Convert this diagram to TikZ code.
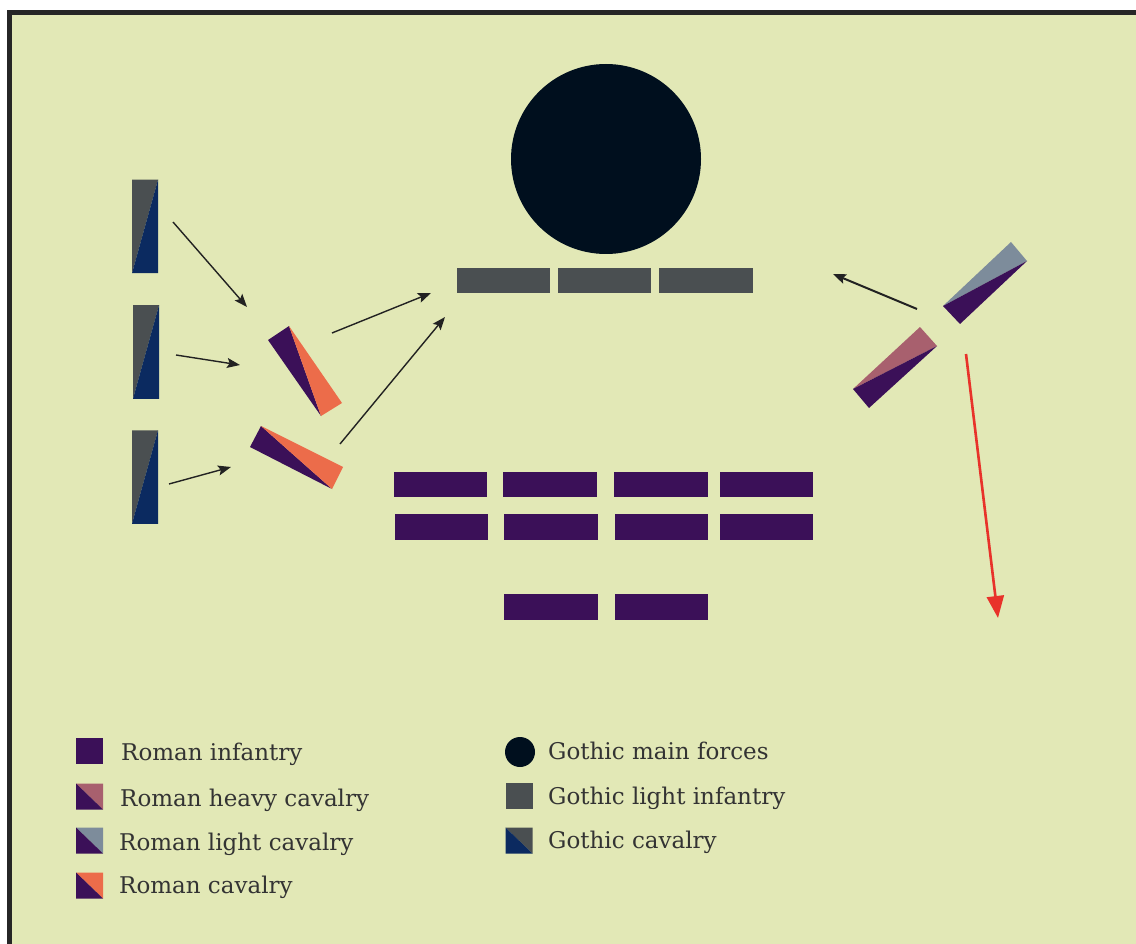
\documentclass[tikz,border=0pt]{standalone}
\usepackage{fontspec}
\setmainfont{DejaVu Serif}
\usetikzlibrary{arrows.meta}
\definecolor{bgc}{HTML}{E2E8B6}
\definecolor{framec}{HTML}{262626}
\definecolor{rompurple}{HTML}{3B1058}
\definecolor{romorange}{HTML}{EC6C4A}
\definecolor{rompink}{HTML}{A8606E}
\definecolor{romlight}{HTML}{7D8C9B}
\definecolor{gothgray}{HTML}{4A4F51}
\definecolor{gothnavy}{HTML}{0B2A60}
\definecolor{gothmain}{HTML}{000F1E}
\definecolor{textc}{HTML}{333333}
\definecolor{arrowc}{HTML}{222222}
\definecolor{redc}{HTML}{E8322A}
\tikzset{
  unitbox/.style={inner sep=0pt, outer sep=0pt, minimum width=93.5pt, minimum height=25.5pt, draw=none},
  rinf/.style={unitbox, fill=rompurple},
  ginf/.style={unitbox, fill=gothgray},
  gcavbox/.style={inner sep=0pt, outer sep=0pt, minimum width=26pt, minimum height=93.5pt, draw=none},
  legbox/.style={inner sep=0pt, outer sep=0pt, minimum width=27pt, minimum height=26pt, draw=none},
  legtext/.style={anchor=base west, inner sep=0pt, text=textc, font=\fontsize{23}{26}\selectfont},
  move/.style={draw=arrowc, line width=1.4pt, -{Stealth[length=13pt,width=10pt,inset=2.5pt]}},
  retreat/.style={draw=redc, line width=2.6pt, -{Triangle[length=22pt,width=17pt]}}
}
\begin{document}
\begin{tikzpicture}[x=1pt,y=-1pt]
\useasboundingbox (0,0) rectangle (1136,944);
\fill[white] (0,0) rectangle (1136,944);
\fill[framec] (7,10.5) rectangle (1136,944);
\fill[bgc] (12,15) rectangle (1136,944);

% Gothic main forces
\node[circle, fill=gothmain, minimum size=190pt, inner sep=0pt] (main) at (606,159) {};

% Gothic light infantry
\node[ginf] (g1) at (503.5,280.5) {};
\node[ginf] (g2) at (604.5,280.5) {};
\node[ginf] (g3) at (706,280.5) {};

% Roman infantry
\node[rinf] (r11) at (440.5,484.5) {};
\node[rinf] (r12) at (550,484.5) {};
\node[rinf] (r13) at (661,484.5) {};
\node[rinf] (r14) at (766.5,484.5) {};
\node[rinf] (r21) at (441.5,527) {};
\node[rinf] (r22) at (551,527) {};
\node[rinf] (r23) at (661.5,527) {};
\node[rinf] (r24) at (766.5,527) {};
\node[rinf] (r31) at (551,607) {};
\node[rinf] (r32) at (661.5,607) {};

% Gothic cavalry (left)
\foreach \n/\x/\y in {ca/145/226.5, cb/146/352, cc/145/477}{
  \node[gcavbox] (\n) at (\x,\y) {};
  \fill[gothgray] (\n.north west) -- (\n.north east) -- (\n.south west) -- cycle;
  \fill[gothnavy] (\n.north east) -- (\n.south east) -- (\n.south west) -- cycle;
}

% Roman cavalry (rotated)
\coordinate (rca1) at (268,340); \coordinate (rca2) at (289,326);
\coordinate (rca3) at (342,403); \coordinate (rca4) at (321,416);
\fill[rompurple] (rca1) -- (rca2) -- (rca4) -- cycle;
\fill[romorange] (rca2) -- (rca3) -- (rca4) -- cycle;
\coordinate (rcb1) at (261,426); \coordinate (rcb2) at (343,467);
\coordinate (rcb3) at (332,489); \coordinate (rcb4) at (250,447);
\fill[rompurple] (rcb1) -- (rcb3) -- (rcb4) -- cycle;
\fill[romorange] (rcb1) -- (rcb2) -- (rcb3) -- cycle;

% Roman light cavalry (right, upper)
\coordinate (lc1) at (943,306); \coordinate (lc2) at (1011,242);
\coordinate (lc3) at (1027,261); \coordinate (lc4) at (960,324);
\fill[romlight] (lc1) -- (lc2) -- (lc3) -- cycle;
\fill[rompurple] (lc1) -- (lc3) -- (lc4) -- cycle;

% Roman heavy cavalry (right, lower)
\coordinate (hc1) at (853,389); \coordinate (hc2) at (920,327);
\coordinate (hc3) at (937,346); \coordinate (hc4) at (869,408);
\fill[rompink] (hc1) -- (hc2) -- (hc3) -- cycle;
\fill[rompurple] (hc1) -- (hc3) -- (hc4) -- cycle;

% Movement arrows
\coordinate (a1s) at (173,222); \coordinate (a1e) at (247,307);
\coordinate (a2s) at (176,355); \coordinate (a2e) at (240,365);
\coordinate (a3s) at (169,484); \coordinate (a3e) at (231,467);
\coordinate (a4s) at (332,333); \coordinate (a4e) at (431,293);
\coordinate (a5s) at (340,444); \coordinate (a5e) at (445,317);
\coordinate (a6s) at (917,309); \coordinate (a6e) at (833,274);
\coordinate (a7s) at (966,354); \coordinate (a7e) at (998,618);
\draw[move] (a1s) -- (a1e);
\draw[move] (a2s) -- (a2e);
\draw[move] (a3s) -- (a3e);
\draw[move] (a4s) -- (a4e);
\draw[move] (a5s) -- (a5e);
\draw[move, line width=2pt] (a6s) -- (a6e);
\draw[retreat] (a7s) -- (a7e);

% Legend - Roman
\node[legbox, fill=rompurple] (lri) at (89.5,750.5) {};
\node[legbox] (lrh) at (89.5,796.5) {};
\fill[rompink] (lrh.north west) -- (lrh.north east) -- (lrh.south east) -- cycle;
\fill[rompurple] (lrh.north west) -- (lrh.south east) -- (lrh.south west) -- cycle;
\node[legbox] (lrl) at (89.5,840.5) {};
\fill[romlight] (lrl.north west) -- (lrl.north east) -- (lrl.south east) -- cycle;
\fill[rompurple] (lrl.north west) -- (lrl.south east) -- (lrl.south west) -- cycle;
\node[legbox] (lrc) at (89.5,885.5) {};
\fill[romorange] (lrc.north west) -- (lrc.north east) -- (lrc.south east) -- cycle;
\fill[rompurple] (lrc.north west) -- (lrc.south east) -- (lrc.south west) -- cycle;
\node[legtext] (tri) at (121,760) {Roman infantry};
\node[legtext] (trh) at (120,806) {Roman heavy cavalry};
\node[legtext] (trl) at (119,850) {Roman light cavalry};
\node[legtext] (trc) at (119,893) {Roman cavalry};

% Legend - Gothic
\node[circle, fill=gothmain, minimum size=30pt, inner sep=0pt] (lgm) at (520,752) {};
\node[legbox, fill=gothgray] (lgi) at (519,796) {};
\node[legbox] (lgc) at (519,840.5) {};
\fill[gothgray] (lgc.north west) -- (lgc.north east) -- (lgc.south east) -- cycle;
\fill[gothnavy] (lgc.north west) -- (lgc.south east) -- (lgc.south west) -- cycle;
\node[legtext] (tgm) at (548,759) {Gothic main forces};
\node[legtext] (tgi) at (548,804) {Gothic light infantry};
\node[legtext] (tgc) at (548,848) {Gothic cavalry};
\end{tikzpicture}
\end{document}
